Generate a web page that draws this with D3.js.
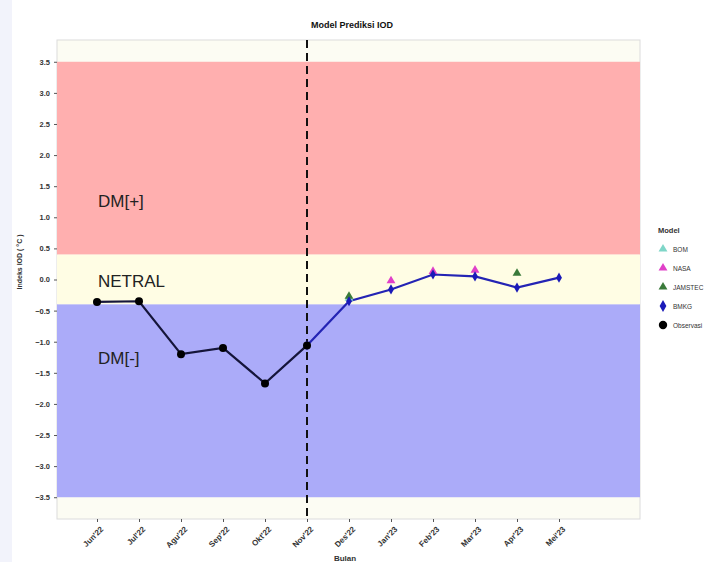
<!DOCTYPE html>
<html>
<head>
<meta charset="utf-8">
<script src="https://cdn.jsdelivr.net/npm/d3@7/dist/d3.min.js"></script>
<style>
  html, body { margin: 0; padding: 0; background: #ffffff; }
  svg { display: block; font-family: "Liberation Sans", Arial, sans-serif; }
</style>
</head>
<body>
<svg id="chart" width="723" height="562"></svg>
<script>
// Months on the x axis
const months = ["Jun'22", "Jul'22", "Agu'22", "Sep'22", "Okt'22", "Nov'22",
                "Des'22", "Jan'23", "Feb'23", "Mar'23", "Apr'23", "Mei'23"];
// Y tick values
const yTicks = [3.5, 3.0, 2.5, 2.0, 1.5, 1.0, 0.5, 0.0, -0.5, -1.0, -1.5, -2.0, -2.5, -3.0, -3.5];

// Observed IOD index (first six months)
const obsMonths = ["Jun'22", "Jul'22", "Agu'22", "Sep'22", "Okt'22", "Nov'22"];
const obsValues = [-0.36, -0.35, -1.20, -1.10, -1.67, -1.06];

// BMKG forecast, starting from the last observation
const bmkgMonths = ["Nov'22", "Des'22", "Jan'23", "Feb'23", "Mar'23", "Apr'23", "Mei'23"];
const bmkgValues = [-1.06, -0.35, -0.16, 0.08, 0.05, -0.13, 0.03];

// Other model forecasts
const bomMonths = ["Des'22"];
const bomValues = [-0.30];
const nasaMonths = ["Jan'23", "Feb'23", "Mar'23"];
const nasaValues = [-0.02, 0.13, 0.15];
const jamstecMonths = ["Des'22", "Apr'23"];
const jamstecValues = [-0.27, 0.10];

// Legend entries
const legendNames = ["BOM", "NASA", "JAMSTEC", "BMKG", "Observasi"];
const legendColors = ["#7fd6c8", "#e040c8", "#3a7a3a", "#1a1ab8", "#000000"];
const legendShapes = ["triangle", "triangle", "triangle", "diamond", "circle"];

// Category bands: DM[+], Netral, DM[-]
const bandNames = ["DM[+]", "NETRAL", "DM[-]"];
const bandLow = [0.4, -0.4, -3.5];
const bandHigh = [3.5, 0.4, -0.4];
const bandColors = ["#ffafaf", "#fffde4", "#ababf9"];

const svg = d3.select("#chart");
const panel = { left: 57, right: 640, top: 40, bottom: 519 };

const x = d3.scalePoint().domain(months).range([97, 559]);
const y = d3.scaleLinear().domain([-3.85, 3.85]).range([panel.bottom, panel.top]);

// faint page tint along the left edge
svg.append("rect").attr("x", 0).attr("y", 0).attr("width", 12).attr("height", 562)
  .attr("fill", "#f2f3fb");

// panel background
svg.append("rect")
  .attr("x", panel.left).attr("y", panel.top)
  .attr("width", panel.right - panel.left).attr("height", panel.bottom - panel.top)
  .attr("fill", "#fcfcf3").attr("stroke", "#dcdcdc").attr("stroke-width", 1);

// bands
svg.selectAll("rect.band").data(bandNames).join("rect")
  .attr("class", "band")
  .attr("x", panel.left)
  .attr("width", panel.right - panel.left)
  .attr("y", (d, i) => y(bandHigh[i]))
  .attr("height", (d, i) => y(bandLow[i]) - y(bandHigh[i]))
  .attr("fill", (d, i) => bandColors[i]);

// band labels
svg.selectAll("text.bandlabel").data(bandNames).join("text")
  .attr("class", "bandlabel")
  .attr("x", 98)
  .attr("y", (d, i) => [207, 287, 364][i])
  .attr("font-size", 17)
  .attr("fill", "#222")
  .text(d => d);

// y axis
const yAxis = d3.axisLeft(y).tickValues(yTicks).tickFormat(d3.format(".1f")).tickSize(3).tickPadding(4);
const gy = svg.append("g").attr("transform", `translate(${panel.left},0)`).call(yAxis);
gy.select(".domain").remove();
gy.selectAll("text").attr("font-size", 7.5).attr("fill", "#333").attr("font-weight", "bold");
gy.selectAll("line").attr("stroke", "#555");

// x axis
const xAxis = d3.axisBottom(x).tickSize(3).tickPadding(3);
const gx = svg.append("g").attr("transform", `translate(0,${panel.bottom})`).call(xAxis);
gx.select(".domain").remove();
gx.selectAll("line").attr("stroke", "#555");
gx.selectAll("text")
  .attr("font-size", 8).attr("fill", "#333").attr("font-weight", "bold")
  .attr("text-anchor", "end")
  .attr("transform", "translate(0,2) rotate(-45)")
  .attr("dx", "-0.2em").attr("dy", "0.6em");

// axis titles
svg.append("text").attr("x", 345).attr("y", 561).attr("text-anchor", "middle")
  .attr("font-size", 8).attr("font-weight", "bold").attr("fill", "#333").text("Bulan");
svg.append("text").attr("transform", "translate(22,262) rotate(-90)")
  .attr("text-anchor", "middle").attr("font-size", 7).attr("font-weight", "bold")
  .attr("fill", "#333").text("Indeks IOD ( °C )");

// title
svg.append("text").attr("x", 352).attr("y", 28).attr("text-anchor", "middle")
  .attr("font-size", 9).attr("font-weight", "bold").attr("fill", "#111")
  .text("Model Prediksi IOD");

// dashed line at the start of the forecast
svg.append("line")
  .attr("x1", x("Nov'22")).attr("x2", x("Nov'22"))
  .attr("y1", panel.top).attr("y2", panel.bottom)
  .attr("stroke", "#111").attr("stroke-width", 2).attr("stroke-dasharray", "8,5");

const line = d3.line().x(d => x(d[0])).y(d => y(d[1]));

// BMKG forecast line
svg.append("path").datum(d3.zip(bmkgMonths, bmkgValues))
  .attr("d", line).attr("fill", "none").attr("stroke", "#2424b4").attr("stroke-width", 2.2);

// observation line
svg.append("path").datum(d3.zip(obsMonths, obsValues))
  .attr("d", line).attr("fill", "none").attr("stroke", "#15153a").attr("stroke-width", 2.2);

const tri = d3.symbol().type(d3.symbolTriangle).size(34);
const dia = d3.symbol().type(d3.symbolDiamond).size(30);

function triangles(ms, vs, color) {
  svg.append("g").selectAll("path").data(d3.zip(ms, vs)).join("path")
    .attr("d", tri)
    .attr("transform", d => `translate(${x(d[0])},${y(d[1])})`)
    .attr("fill", color);
}
triangles(bomMonths, bomValues, legendColors[0]);
triangles(jamstecMonths, jamstecValues, legendColors[2]);
triangles(nasaMonths, nasaValues, legendColors[1]);

// BMKG points
svg.append("g").selectAll("path").data(d3.zip(bmkgMonths, bmkgValues)).join("path")
  .attr("d", dia)
  .attr("transform", d => `translate(${x(d[0])},${y(d[1])})`)
  .attr("fill", legendColors[3]);

// observation points
svg.append("g").selectAll("circle").data(d3.zip(obsMonths, obsValues)).join("circle")
  .attr("cx", d => x(d[0])).attr("cy", d => y(d[1])).attr("r", 4)
  .attr("fill", "#000");

// legend
const lg = svg.append("g").attr("transform", "translate(650,0)");
lg.append("text").attr("x", 8).attr("y", 233).attr("font-size", 7.5)
  .attr("font-weight", "bold").attr("fill", "#333").text("Model");
const items = lg.selectAll("g.item").data(legendNames).join("g")
  .attr("class", "item")
  .attr("transform", (d, i) => `translate(0,${249 + i * 19})`);
items.append("path")
  .attr("transform", "translate(13,0)")
  .attr("d", (d, i) => {
    const s = legendShapes[i];
    if (s === "triangle") return d3.symbol().type(d3.symbolTriangle).size(34)();
    if (s === "diamond") return d3.symbol().type(d3.symbolDiamond).size(40)();
    return d3.symbol().type(d3.symbolCircle).size(55)();
  })
  .attr("fill", (d, i) => legendColors[i]);
items.append("text").attr("x", 23).attr("y", 2.5).attr("font-size", 6.5)
  .attr("fill", "#333").text(d => d);
</script>
</body>
</html>
